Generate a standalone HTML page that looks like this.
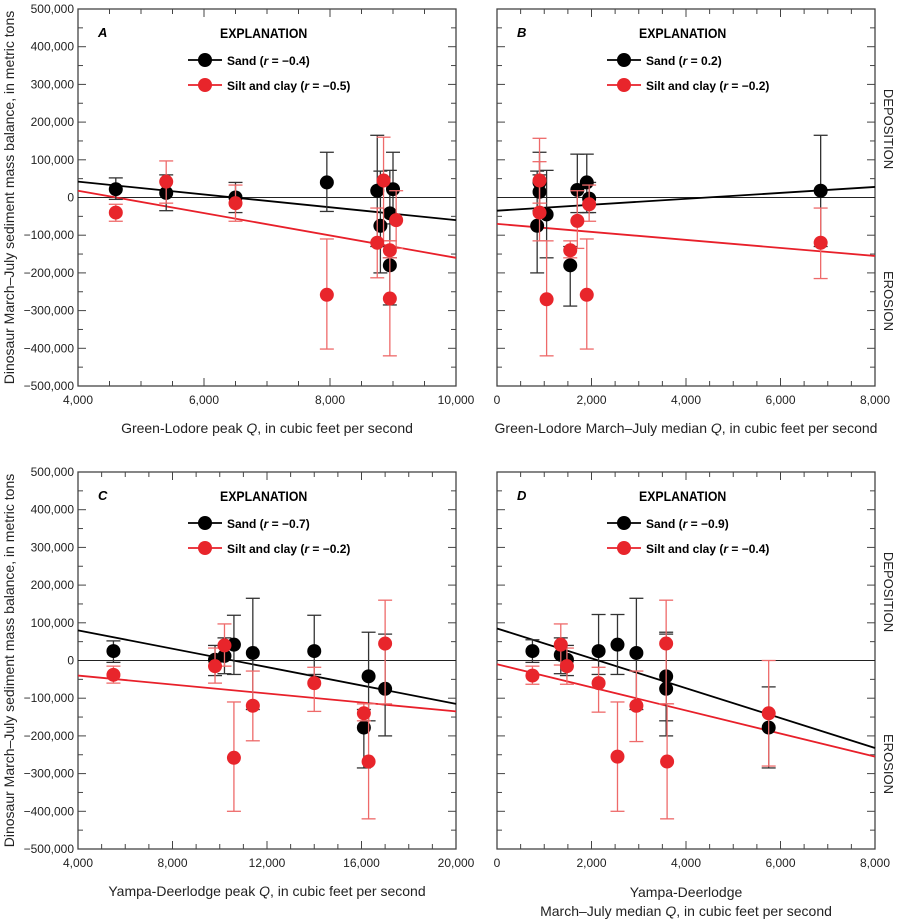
<!DOCTYPE html>
<html><head><meta charset="utf-8"><style>
body{margin:0;background:#fff}
svg{display:block;font-family:"Liberation Sans",sans-serif}
</style></head><body>
<svg id="s" width="898" height="922" xmlns="http://www.w3.org/2000/svg"></svg>
<script>
const S=document.getElementById('s');let h='';
const panels=[
{L:'A',x0:78,x1:456,y0:9,y1:386,xmin:4000,xmax:10000,xt:[4000,6000,8000,10000],xm:500,yl:true,
 sr:'−0.4',cr:'−0.5',sl:[[4000,42],[10000,-60]],cl:[[4000,18],[10000,-160]],
 sand:[[4600,22,52,-5],[5400,12,60,-35],[6500,0,40,-40],[7950,40,120,-37],[8750,18,165,-130],[8800,-75,70,-200],[8950,-180,-130,-285],[8950,-42,72,-160],[9000,22,120,-70]],
 silt:[[4600,-40,-18,-63],[5400,42,97,-15],[6500,-15,33,-63],[7950,-258,-110,-402],[8750,-120,-28,-213],[8850,45,160,-115],[8950,-140,-115,-160],[8950,-268,-115,-420],[9050,-60,18,-135]],
 xlab:['Green-Lodore peak <tspan font-style="italic">Q</tspan>, in cubic feet per second']},
{L:'B',x0:497,x1:875,y0:9,y1:386,xmin:0,xmax:8000,xt:[0,2000,4000,6000,8000],xm:500,yl:false,
 sr:'0.2',cr:'−0.2',sl:[[0,-35],[8000,28]],cl:[[0,-70],[8000,-155]],
 sand:[[850,-75,70,-200],[900,15,60,-35],[900,40,120,-37],[1050,-45,72,-160],[1550,-180,-130,-288],[1700,20,115,-40],[1900,40,115,-40],[1950,-3,40,-40],[6850,18,165,-130]],
 silt:[[900,45,157,-115],[900,-40,95,-15],[1050,-270,-115,-420],[1550,-140,-115,-160],[1700,-62,18,-135],[1900,-258,-110,-402],[1950,-18,33,-63],[6850,-120,-28,-215]],
 xlab:['Green-Lodore March–July median <tspan font-style="italic">Q</tspan>, in cubic feet per second']},
{L:'C',x0:78,x1:456,y0:472,y1:849,xmin:4000,xmax:20000,xt:[4000,8000,12000,16000,20000],xm:1000,yl:true,
 sr:'−0.7',cr:'−0.2',sl:[[4000,80],[20000,-115]],cl:[[4000,-40],[20000,-135]],
 sand:[[5500,25,52,-5],[9800,2,40,-40],[10200,12,60,-35],[10600,42,120,-37],[11400,20,165,-130],[14000,25,120,-37],[16100,-178,-130,-285],[16300,-42,75,-160],[17000,-75,70,-200]],
 silt:[[5500,-38,-15,-60],[9800,-15,33,-60],[10200,40,97,-15],[10600,-258,-110,-400],[11400,-120,-28,-213],[14000,-60,-18,-135],[16100,-140,-115,-160],[16300,-268,-115,-420],[17000,45,160,-115]],
 xlab:['Yampa-Deerlodge peak <tspan font-style="italic">Q</tspan>, in cubic feet per second']},
{L:'D',x0:497,x1:875,y0:472,y1:849,xmin:0,xmax:8000,xt:[0,2000,4000,6000,8000],xm:500,yl:false,
 sr:'−0.9',cr:'−0.4',sl:[[0,85],[8000,-232]],cl:[[0,-10],[8000,-255]],
 sand:[[750,25,55,-5],[1350,15,60,-35],[1480,2,40,-40],[2150,25,122,-37],[2550,42,122,-37],[2950,20,165,-130],[3580,-42,75,-160],[3580,-75,70,-200],[5750,-178,-70,-285]],
 silt:[[750,-40,-15,-63],[1350,42,97,-12],[1480,-15,33,-63],[2150,-60,-18,-137],[2550,-255,-110,-400],[2950,-120,-28,-215],[3580,45,160,-115],[3600,-268,-115,-420],[5750,-140,0,-280]],
 xlab:['Yampa-Deerlodge','March–July median <tspan font-style="italic">Q</tspan>, in cubic feet per second']}
];
function fmt(n){return n<0?'−'+Math.abs(n).toLocaleString('en-US'):n.toLocaleString('en-US');}
for(const p of panels){
 const X=v=>p.x0+(v-p.xmin)/(p.xmax-p.xmin)*(p.x1-p.x0);
 const Y=v=>p.y0+(500-v)/1000*(p.y1-p.y0);
 h+=`<rect x="${p.x0}" y="${p.y0}" width="${p.x1-p.x0}" height="${p.y1-p.y0}" fill="none" stroke="#444" stroke-width="1.3"/>`;
 for(let v=-500;v<=500;v+=50){const y=Y(v),l=v%100==0?8:5;
  h+=`<line x1="${p.x0}" y1="${y}" x2="${p.x0+l}" y2="${y}" stroke="#444"/><line x1="${p.x1}" y1="${y}" x2="${p.x1-l}" y2="${y}" stroke="#444"/>`;
  if(p.yl&&v%100==0)h+=`<text x="${p.x0-4}" y="${y+4}" font-size="12" text-anchor="end" fill="#222">${fmt(v*1000)}</text>`;}
 for(let v=p.xmin;v<=p.xmax;v+=p.xm){const x=X(v);const maj=p.xt.includes(v);const l=maj?8:5;
  h+=`<line x1="${x}" y1="${p.y1}" x2="${x}" y2="${p.y1-l}" stroke="#444"/><line x1="${x}" y1="${p.y0}" x2="${x}" y2="${p.y0+l}" stroke="#444"/>`;}
 for(const v of p.xt){const x=X(v);h+=`<text x="${x}" y="${p.y1+18}" font-size="12" text-anchor="middle" fill="#222">${fmt(v)}</text>`;}
 h+=`<line x1="${p.x0}" y1="${Y(0)}" x2="${p.x1}" y2="${Y(0)}" stroke="#222" stroke-width="1"/>`;
 const draw=(pts,col,ecol)=>{for(const [x,y,a,b] of pts){const cx=X(x);
  h+=`<line x1="${cx}" y1="${Y(a)}" x2="${cx}" y2="${Y(b)}" stroke="${ecol}" stroke-width="1.3"/><line x1="${cx-7}" y1="${Y(a)}" x2="${cx+7}" y2="${Y(a)}" stroke="${ecol}" stroke-width="1.3"/><line x1="${cx-7}" y1="${Y(b)}" x2="${cx+7}" y2="${Y(b)}" stroke="${ecol}" stroke-width="1.3"/>`;}
  for(const [x,y] of pts)h+=`<circle cx="${X(x)}" cy="${Y(y)}" r="7" fill="${col}"/>`;};
 h+=`<line x1="${X(p.sl[0][0])}" y1="${Y(p.sl[0][1])}" x2="${X(p.sl[1][0])}" y2="${Y(p.sl[1][1])}" stroke="#000" stroke-width="1.8"/>`;
 h+=`<line x1="${X(p.cl[0][0])}" y1="${Y(p.cl[0][1])}" x2="${X(p.cl[1][0])}" y2="${Y(p.cl[1][1])}" stroke="#e8202a" stroke-width="1.8"/>`;
 draw(p.sand,'#000','#333');draw(p.silt,'#e8252b','#ee6a6a');
 const lx=p.x0+110,ty=p.y0;
 h+=`<text x="${p.x0+20}" y="${ty+28}" font-size="13" font-weight="bold" font-style="italic">${p.L}</text>`;
 h+=`<text x="${p.x0+142}" y="${ty+29}" font-size="14" font-weight="bold" transform="translate(${p.x0+142},0) scale(0.88,1) translate(${-(p.x0+142)},0)">EXPLANATION</text>`;
 h+=`<line x1="${lx}" y1="${ty+51}" x2="${lx+34}" y2="${ty+51}" stroke="#000" stroke-width="1.8"/><circle cx="${lx+17}" cy="${ty+51}" r="7" fill="#000"/>`;
 h+=`<line x1="${lx}" y1="${ty+76}" x2="${lx+34}" y2="${ty+76}" stroke="#e8202a" stroke-width="1.8"/><circle cx="${lx+17}" cy="${ty+76}" r="7" fill="#e8252b"/>`;
 h+=`<text x="${lx+39}" y="${ty+56}" font-size="12" font-weight="bold">Sand (<tspan font-style="italic">r</tspan> = ${p.sr})</text>`;
 h+=`<text x="${lx+39}" y="${ty+81}" font-size="12" font-weight="bold">Silt and clay (<tspan font-style="italic">r</tspan> = ${p.cr})</text>`;
 const cx=(p.x0+p.x1)/2;
 if(p.xlab.length==1)h+=`<text x="${cx}" y="${p.y1+47}" font-size="14" text-anchor="middle" fill="#222">${p.xlab[0]}</text>`;
 else{h+=`<text x="${cx}" y="${p.y1+48}" font-size="14" text-anchor="middle" fill="#222">${p.xlab[0]}</text><text x="${cx}" y="${p.y1+67}" font-size="14" text-anchor="middle" fill="#222">${p.xlab[1]}</text>`;}
 if(p.yl){const yc=(p.y0+p.y1)/2;h+=`<text transform="translate(14,${yc}) rotate(-90)" font-size="14" text-anchor="middle" fill="#222">Dinosaur March–July sediment mass balance, in metric tons</text>`;}
 else{h+=`<text transform="translate(884,${p.y0+120}) rotate(90)" font-size="13" text-anchor="middle" fill="#222">DEPOSITION</text><text transform="translate(884,${p.y0+292}) rotate(90)" font-size="13" text-anchor="middle" fill="#222">EROSION</text>`;}
}
S.innerHTML=h;
</script>
</body></html>
